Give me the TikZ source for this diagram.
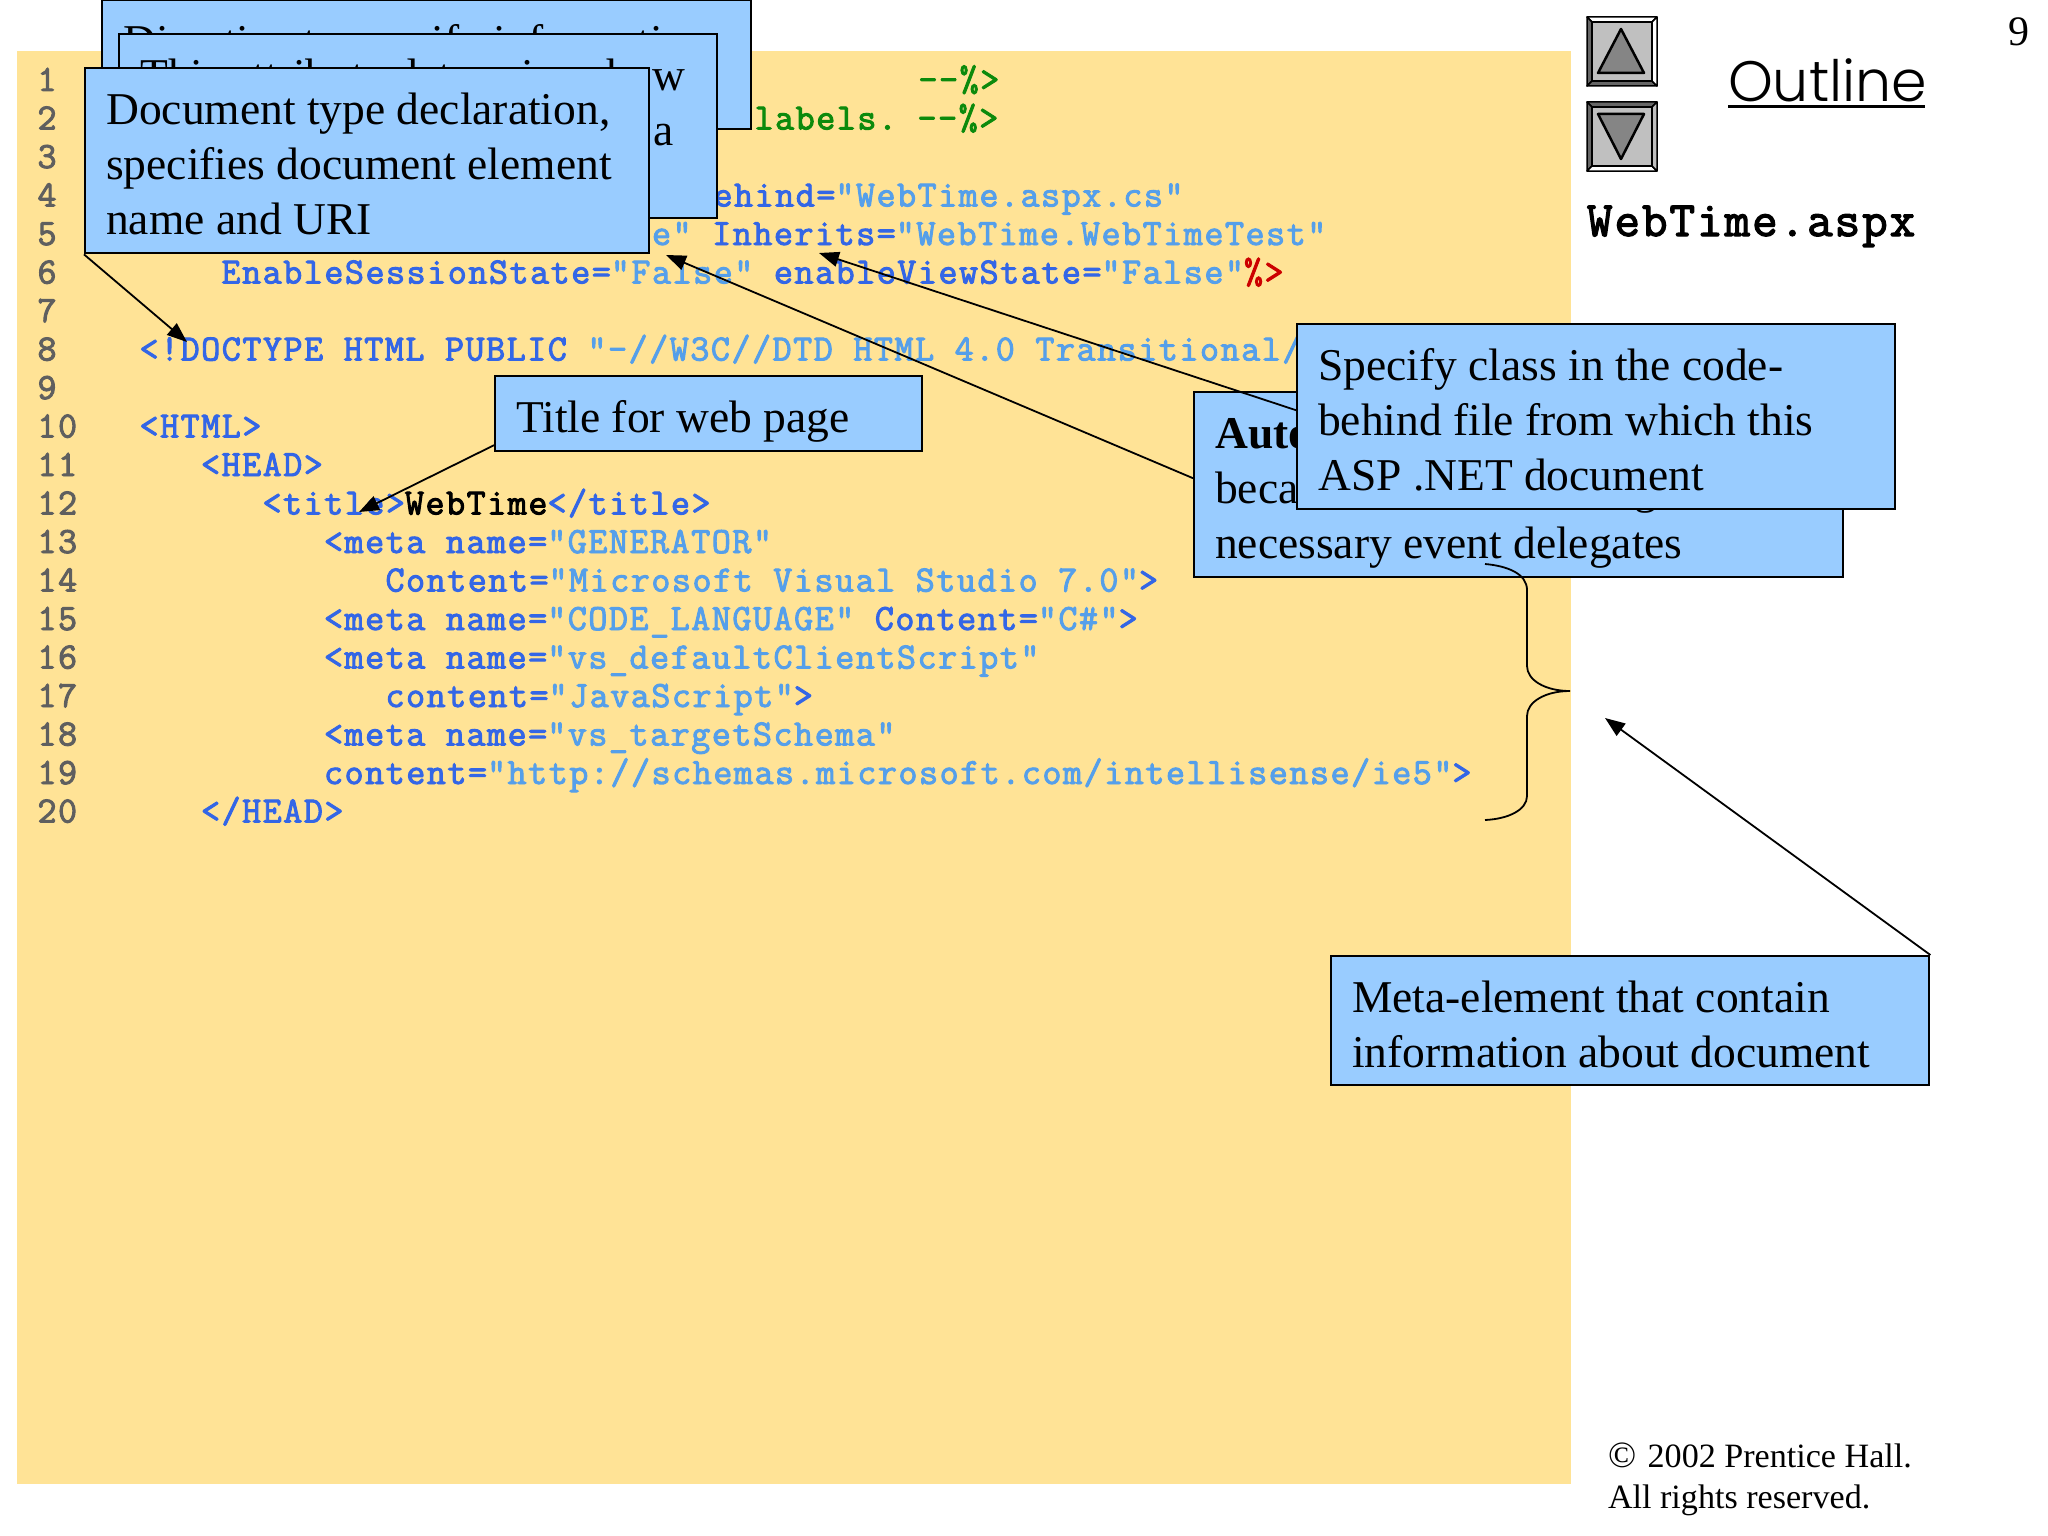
\documentclass[tikz,border=0pt]{standalone}
\usepackage{fontspec}
\setmainfont{Liberation Serif}
\newfontfamily\outlfont{Poppins Light}
\newfontfamily\cf{Latin Modern Mono}[FakeBold=2.6,LetterSpace=4.1]
\usetikzlibrary{arrows.meta}
\pgfdeclarelayer{fg}
\pgfsetlayers{main,fg}
\definecolor{sheet}{HTML}{FFE396}
\definecolor{callout}{HTML}{99CCFF}
\definecolor{kw}{HTML}{3366E6}
\definecolor{str}{HTML}{559FEA}
\definecolor{cmt}{HTML}{0C8A0C}
\definecolor{pct}{HTML}{CC0000}
\definecolor{lnum}{HTML}{5F5F5F}
\definecolor{btn}{HTML}{C0C0C0}
\definecolor{btnd}{HTML}{666666}
\definecolor{tri}{HTML}{858585}
\newcommand{\K}[1]{\textcolor{kw}{#1}}
\newcommand{\Q}[1]{\textcolor{str}{#1}}
\newcommand{\G}[1]{\textcolor{cmt}{#1}}
\newcommand{\R}[1]{\textcolor{pct}{#1}}
\newcommand{\F}{\rule{0pt}{50pt}}
\newcommand{\Z}{\rule[-12pt]{0pt}{12pt}}
\newcommand{\W}{\hspace*{20.55pt}}
\frenchspacing
\tikzset{
  x=1pt,y=-1pt,
  code/.style={anchor=base west,inner sep=0pt,outer sep=0pt,font=\cf\fontsize{37}{40}\selectfont},
  lineno/.style={code,text=lnum},
  box/.style={draw=black,line width=2.4pt,fill=callout,anchor=north west,inner xsep=21pt,inner ysep=0pt,align=flush left,
    font=\fontsize{45.5}{55}\selectfont,text=black},
  conn/.style={draw=black,line width=1.8pt,-{Triangle[length=20pt,width=15pt]}},
  plain/.style={anchor=base west,inner sep=0pt,outer sep=0pt,text=black},
  bline/.style={draw=black,line width=1.5pt,line join=round},
}
\newcommand{\LN}{1}
\newcommand{\cl}[4]{\renewcommand{\LN}{#2}\node[code] (#1) at ({139.5+#3*20.5},{91+(\LN-1)*38.5}) {#4};}
\begin{document}
\begin{tikzpicture}
\useasboundingbox (0,0) rectangle (2048,1536);
\fill[white] (0,0) rectangle (2048,1536);
\fill[sheet] (17,51) rectangle (1571,1484);
% line numbers
\foreach \n in {1,...,20}{\node[lineno] (n\n) at (37.5,{91+(\n-1)*38.5}) {\n};}
% code
\cl{c1}{1}{38}{\G{--\%>}}
\cl{c2}{2}{30}{\G{labels.\W--\%>}}
\cl{c4}{4}{28}{\K{ehind=}\Q{"WebTime.aspx.cs"}}
\cl{c5}{5}{25}{\Q{e"}\W\K{Inherits=}\Q{"WebTime.WebTimeTest"}}
\cl{c6}{6}{4}{\K{EnableSessionState=}\Q{"False"}\W\K{enableViewState=}\Q{"False"}\R{\%>}}
\cl{c8}{8}{0}{\K{<!DOCTYPE\W HTML\W PUBLIC}\W\Q{"-//W3C//DTD\W HTML\W 4.0\W Transitional//EN"}\K{>}}
\cl{c10}{10}{0}{\K{<HTML>}}
\cl{c11}{11}{3}{\K{<HEAD>}}
\cl{c12}{12}{6}{\K{<title>}\textcolor{black}{WebTime}\K{</title>}}
\cl{c13}{13}{9}{\K{<meta\W name=}\Q{"GENERATOR"}}
\cl{c14}{14}{12}{\K{Content=}\Q{"Microsoft\W Visual\W Studio\W 7.0"}\K{>}}
\cl{c15}{15}{9}{\K{<meta\W name=}\Q{"CODE\_LANGUAGE"}\W\K{Content=}\Q{"C\#"}\K{>}}
\cl{c16}{16}{9}{\K{<meta\W name=}\Q{"vs\_defaultClientScript"}}
\cl{c17}{17}{12}{\K{content=}\Q{"JavaScript"}\K{>}}
\cl{c18}{18}{9}{\K{<meta\W name=}\Q{"vs\_targetSchema"}}
\cl{c19}{19}{9}{\K{content=}\Q{"http://schemas.microsoft.com/intellisense/ie5"}\K{>}}
\cl{c20}{20}{3}{\K{</HEAD>}}
% stacked callouts top left
\node[box,minimum width=649pt,minimum height=129pt,text width=607pt] (dir) at (101,-1) {\F Directive to specify information\\\Z};
\node[box,minimum width=598pt,minimum height=184pt,text width=556pt] (attr) at (118,33) {\F This attribute determines how\\\hspace*{513pt}a\\\Z};
\node[box,minimum width=564pt,minimum height=185pt,text width=522pt] (doct) at (84,67) {\F Document type declaration,\\specifies document element\\name and URI\Z};
\coordinate (docTip) at (187,342);
\draw[conn] (doct.south west) -- (docTip);
% title
\node[box,minimum width=427pt,minimum height=75pt,text width=385pt] (ttl) at (494,375) {\F Title for web page\Z};
\coordinate (ttlTip) at (359,512);
\draw[conn] ([yshift=-31.5pt]ttl.west) -- (ttlTip);
% autoeventwireup
\node[box,minimum width=649pt,minimum height=185pt,text width=607pt] (auto) at (1193,391) {\F\textbf{AutoEventWireup}\\because\hspace*{275pt}g\\necessary event delegates\Z};
\coordinate (autoTip) at (666,255);
\coordinate (specTip) at (819,253);
\draw[conn] ([yshift=6.5pt]auto.west) -- (autoTip);
\begin{pgfonlayer}{fg}
\node[box,minimum width=598pt,minimum height=185pt,text width=556pt] (spec) at (1296,323) {\F Specify class in the code-\\behind file from which this\\ASP .NET document\Z};
\end{pgfonlayer}
\draw[conn] ([yshift=6.5pt]spec.west) -- (specTip);
% brace
\draw[black,line width=1.8pt] (1485,564) .. controls (1508,566) and (1527,574) .. (1527,590) -- (1527,666)
  .. controls (1527,680) and (1545,691) .. (1570,691)
  .. controls (1545,691) and (1527,702) .. (1527,716) -- (1527,796)
  .. controls (1527,810) and (1508,819) .. (1485,820);
% meta
\node[box,minimum width=598pt,minimum height=129pt,text width=556pt] (meta) at (1330,955) {\F Meta-element that contain\\information about document\Z};
\coordinate (metaTip) at (1605,718);
\draw[conn] (meta.north east) -- (metaTip);
% buttons
\foreach \o/\tc/\lc/\bc/\rc in {0/white/btnd/btnd/white,85/btnd/btnd/white/btn}{
  \begin{scope}[yshift=-\o pt]
  \path[bline,fill=\tc] (1587,17) -- (1657,17) -- (1652,22) -- (1592,22) -- cycle;
  \path[bline,fill=\lc] (1587,17) -- (1587,86) -- (1592,81) -- (1592,22) -- cycle;
  \path[bline,fill=\bc] (1587,86) -- (1657,86) -- (1652,81) -- (1592,81) -- cycle;
  \path[bline,fill=\rc] (1657,17) -- (1657,86) -- (1652,81) -- (1652,22) -- cycle;
  \path[bline,fill=btn] (1592,22) rectangle (1652,81);
  \end{scope}
}
\path[draw=black,line width=2.5pt,line join=round,fill=tri] (1621,29) -- (1644,73) -- (1598,73) -- cycle;
\path[draw=black,line width=2.5pt,line join=round,fill=tri] (1621,159) -- (1644,114) -- (1598,114) -- cycle;
% right column
\node[plain,font=\outlfont\fontsize{57}{60}\selectfont] (out) at (1728,102) {Outline};
\draw[black,line width=3pt] (1728,107) -- (1925,107);
\node[plain,font=\cf\fontsize{49.5}{54}\selectfont] (file) at (1587,236) {WebTime.aspx};
\node[plain,font=\fontsize{42}{44}\selectfont] (pg) at (2008,46) {9};
\node[plain,font=\fontsize{34.1}{41}\selectfont] (c1r) at (1608,1467) {{\fontsize{37}{41}\selectfont ©}\hspace{3pt} 2002 Prentice Hall.};
\node[plain,font=\fontsize{34.1}{41}\selectfont] (c2r) at (1608,1508) {All rights reserved.};
\end{tikzpicture}
\end{document}
